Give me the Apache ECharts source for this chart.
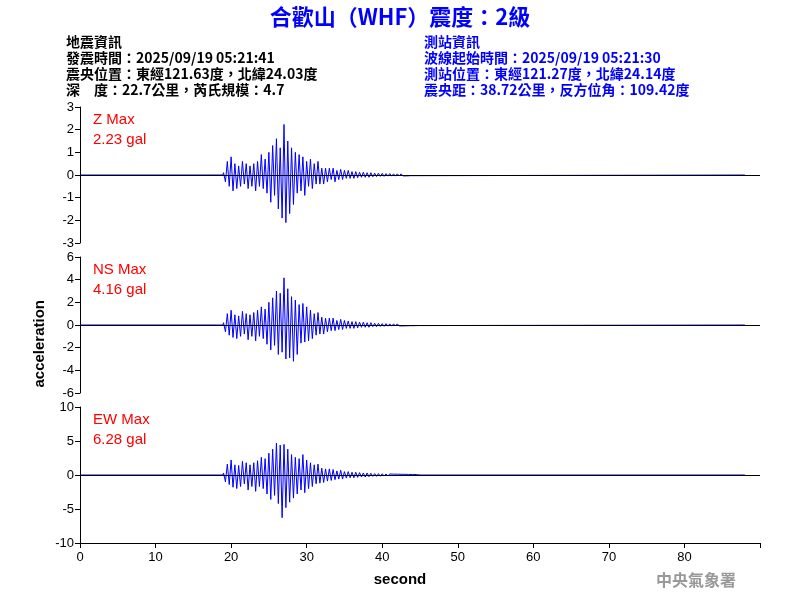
<!DOCTYPE html>
<html><head><meta charset="utf-8">
<script src="https://cdn.jsdelivr.net/npm/echarts@6/dist/echarts.min.js"></script>
<style>body{margin:0}#c{width:800px;height:600px}</style>
</head><body><div id="c"></div>
<script>
// 取樣起點與間隔 (秒)
var t0 = 19, step = 0.25;
var xTicks = [0, 10, 20, 30, 40, 50, 60, 70, 80];
var zVals = [0.1,-0.3,0.6,-0.5,0.8,-0.7,0.5,-0.6, 0.4,-0.5,0.6,-0.4,0.5,-0.6,0.4,-0.5,
  0.5,-0.7,0.6,-0.5,0.9,-0.6,0.7,-0.8, 1.0,-1.2,1.3,-0.9,1.6,-1.5,1.2,-1.9,
  2.23,-2.1,1.5,-1.7,1.2,-1.3,1.0,-0.8, 0.9,-0.7,0.8,-0.9,0.6,-0.5,0.7,-0.6,
  0.5,-0.4,0.6,-0.4,0.3,-0.4,0.3,-0.3, 0.3,-0.2,0.3,-0.3,0.2,-0.2,0.25,-0.2,
  0.2,-0.15,0.2,-0.15,0.15,-0.15,0.15,-0.12, 0.12,-0.1,0.12,-0.1,0.1,-0.1,0.1,-0.08,
  0.08,-0.07,0.08,-0.06,0.07,-0.06,0.06,-0.05, 0.06,-0.05,0.05,-0.05,0.05,-0.04,0.05,-0.04,
  0.04,-0.04,0.04,-0.03,0.03,-0.03,0.03,-0.03,0];
var nsVals = [0.2,-0.6,1.0,-0.9,1.3,-1.1,0.9,-1.2, 0.8,-1.0,1.2,-0.8,1.0,-1.3,0.9,-1.0,
  1.1,-1.4,1.3,-1.0,1.6,-1.2,1.4,-1.7, 2.0,-2.2,2.4,-1.8,3.0,-2.6,2.8,-2.4,
  4.16,-3.0,3.2,-2.9,2.5,-3.2,2.2,-2.6, 1.8,-1.6,1.9,-1.5,1.6,-1.4,1.3,-1.2,
  1.0,-0.9,1.1,-0.8,0.7,-0.8,0.6,-0.6, 0.6,-0.5,0.6,-0.5,0.4,-0.4,0.5,-0.4,
  0.4,-0.3,0.35,-0.3,0.3,-0.3,0.3,-0.25, 0.25,-0.2,0.25,-0.2,0.2,-0.2,0.2,-0.15,
  0.15,-0.15,0.15,-0.12,0.12,-0.12,0.12,-0.1, 0.1,-0.1,0.1,-0.08,0.1,-0.08,0.08,-0.08,
  0.08,-0.07,0.07,-0.06,0.06,-0.06,0.06,-0.05,0];
var ewVals = [0.3,-1.0,1.6,-1.4,2.2,-1.8,1.5,-2.0, 1.4,-1.7,2.0,-1.3,1.8,-2.2,1.5,-1.7,
  1.8,-2.4,2.1,-1.7,2.6,-2.0,2.4,-2.8, 3.2,-3.6,3.8,-3.0,4.7,-4.2,4.4,-6.28,
  4.5,-4.8,3.8,-4.0,3.0,-3.4,2.6,-2.8, 2.4,-2.2,3.0,-2.6,2.2,-2.0,1.8,-1.7,
  1.5,-1.3,1.6,-1.2,1.0,-1.1,0.9,-0.9, 0.9,-0.8,0.8,-0.7,0.6,-0.6,0.7,-0.6,
  0.5,-0.45,0.5,-0.4,0.4,-0.4,0.4,-0.35, 0.35,-0.3,0.3,-0.3,0.3,-0.25,0.25,-0.2,
  0.2,-0.2,0.2,-0.18,0.18,-0.15,0.15,-0.15, 0.15,-0.12,0.12,-0.12,0.12,-0.1,0.1,-0.1,
  0.1,-0.08,0.08,-0.08,0.08,-0.07,0.07,-0.06,0];
var panels = [
  {name:'Z Max', peak:'2.23 gal', vals:zVals, max:3, interval:1, top:107},
  {name:'NS Max', peak:'4.16 gal', vals:nsVals, max:6, interval:2, top:257},
  {name:'EW Max', peak:'6.28 gal', vals:ewVals, max:10, interval:5, top:407}
];
function toData(vals){
  var d = [[0,0],[t0-0.1,0]];
  for(var i=0;i<vals.length;i++) d.push([t0+i*step, vals[i]]);
  d.push([88,0]);
  return d;
}
var chart = echarts.init(document.getElementById('c'));
var ff = 'Arial, "Liberation Sans", sans-serif';
var grids=[],xAxes=[],yAxes=[],series=[];
var gfx = [
  {type:'text',left:'center',top:6,style:{text:'合歡山（WHF）震度：2級',font:'bold 22px "Noto Sans CJK TC", sans-serif',fill:'#0000ff'}},
  {type:'text',left:32,top:300,rotation:Math.PI/2,style:{text:'acceleration',font:'bold 15px '+ff,fill:'#000',align:'center',verticalAlign:'middle'}},
  {type:'text',x:400,y:580,style:{text:'second',font:'bold 15px '+ff,fill:'#000',align:'center',verticalAlign:'middle'}},
  {type:'text',x:656,y:572,style:{text:'中央氣象署',font:'bold 16px "Noto Sans CJK TC", serif',fill:'#999'}}
];
var leftInfo=['地震資訊','發震時間：2025/09/19 05:21:41','震央位置：東經121.63度，北緯24.03度','深　度：22.7公里，芮氏規模：4.7'];
var rightInfo=['測站資訊','波線起始時間：2025/09/19 05:21:30','測站位置：東經121.27度，北緯24.14度','震央距：38.72公里，反方位角：109.42度'];
for(var k=0;k<4;k++){
  gfx.push({type:'text',x:66,y:35+k*16,style:{text:leftInfo[k],font:'bold 14px "Noto Sans CJK TC", sans-serif',fill:'#000'}});
  gfx.push({type:'text',x:424,y:35+k*16,style:{text:rightInfo[k],font:'bold 14px "Noto Sans CJK TC", sans-serif',fill:'#0000ff'}});
}
panels.forEach(function(p,i){
  grids.push({left:80,right:40,top:p.top,height:136});
  xAxes.push({type:'value',gridIndex:i,min:0,max:90,interval:10,show:i==2,
    axisLine:{onZero:false,lineStyle:{color:'#000'}},axisTick:{lineStyle:{color:'#000'}},
    axisLabel:{color:'#000',fontFamily:ff,fontSize:13,formatter:function(v){return v>=90?'':v;}},splitLine:{show:false}});
  yAxes.push({type:'value',gridIndex:i,min:-p.max,max:p.max,interval:p.interval,
    axisLine:{show:true,lineStyle:{color:'#000'}},axisTick:{show:true,lineStyle:{color:'#000'}},
    axisLabel:{color:'#000',fontFamily:ff,fontSize:13,margin:6},splitLine:{show:false}});
  series.push({type:'line',xAxisIndex:i,yAxisIndex:i,data:toData(p.vals),showSymbol:false,
    lineStyle:{color:'#0000ff',width:1},animation:false,z:3,
    markLine:{silent:true,symbol:'none',label:{show:false},lineStyle:{color:'#000',width:1,type:'solid'},data:[{yAxis:0}]}});
  gfx.push({type:'text',x:93,y:p.top+3,style:{text:p.name+'\n'+p.peak,font:'15px '+ff,lineHeight:20,fill:'#ff0000'}});
});
chart.setOption({backgroundColor:'#fff',animation:false,grid:grids,xAxis:xAxes,yAxis:yAxes,series:series,graphic:gfx});
</script></body></html>
